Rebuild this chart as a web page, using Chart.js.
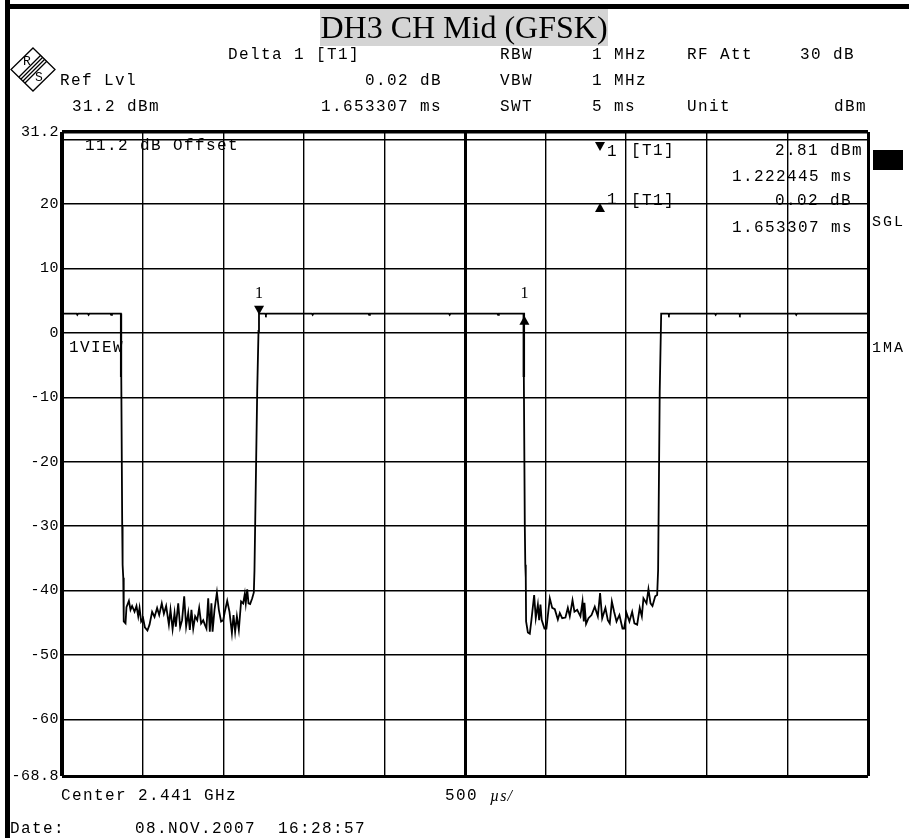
<!DOCTYPE html>
<html>
<head>
<meta charset="utf-8">
<title>DH3 CH Mid (GFSK)</title>
<script src="https://cdn.jsdelivr.net/npm/chart.js@4/dist/chart.umd.min.js"></script>
<style>
  html, body { margin: 0; padding: 0; background: #fff; }
  canvas { display: block; }
</style>
</head>
<body>
<canvas id="chart" width="909" height="838"></canvas>
<script>
const chartTitle = 'DH3 CH Mid (GFSK)';

const yTicks = [31.2, 30, 20, 10, 0, -10, -20, -30, -40, -50, -60, -68.8];
const yTickLabels = ['31.2', '', '20', '10', '0', '-10', '-20', '-30', '-40', '-50', '-60', '-68.8'];
const xTicks = [0, 0.5, 1, 1.5, 2, 2.5, 3, 3.5, 4, 4.5, 5];

// trazo del analizador: tiempo en ms, nivel en dBm
const highAMs = [0, 0.09, 0.095, 0.10, 0.16, 0.165, 0.17, 0.30, 0.305, 0.31, 0.365, 0.365, 0.369, 0.369, 0.367, 0.367, 0.3735, 0.376, 0.380];
const highADb = [3, 3, 2.8, 3, 3, 2.8, 3, 3, 2.8, 3, 3, -6.7, -6.7, 3, 3, -6.7, -30, -36, -38];

const burstAMs = [0.383, 0.394, 0.400, 0.415, 0.425, 0.435, 0.450, 0.462, 0.473, 0.481, 0.491, 0.503, 0.514, 0.530, 0.543,
  0.559, 0.574, 0.590, 0.603, 0.619, 0.632, 0.646, 0.663, 0.673, 0.686, 0.698, 0.706, 0.721, 0.733, 0.745,
  0.758, 0.770, 0.783, 0.793, 0.803, 0.814, 0.826, 0.839, 0.851, 0.863, 0.876, 0.886, 0.896, 0.907, 0.917,
  0.927, 0.934, 0.946, 0.961, 0.973, 0.987, 1.000, 1.010, 1.025, 1.039, 1.054, 1.064, 1.074, 1.085, 1.097,
  1.111, 1.124, 1.134, 1.140, 1.149, 1.157, 1.167, 1.180, 1.190];
const burstADb = [-44.8, -45.1, -42.6, -41.6, -43.0, -42.4, -43.3, -42.4, -44.0, -42.7, -44.8, -44.3, -45.7, -46.2, -45.3,
  -43.3, -44.1, -42.7, -43.8, -42.0, -43.6, -42.4, -45.3, -43.0, -46.0, -43.5, -45.6, -42.0, -45.7, -44.6,
  -40.9, -45.6, -43.5, -46.1, -43.0, -45.9, -44.0, -44.6, -42.7, -45.1, -44.6, -45.3, -45.9, -41.2, -46.4,
  -42.0, -46.4, -43.0, -40.3, -43.0, -44.8, -44.6, -43.3, -41.6, -43.3, -46.6, -43.8, -46.4, -44.0, -46.1,
  -41.7, -42.0, -40.5, -42.0, -39.8, -42.0, -42.1, -41.2, -40.3];

const highBMs = [1.194, 1.211, 1.219, 1.222, 1.26, 1.265, 1.27, 1.55, 1.555, 1.56, 1.90, 1.905, 1.91, 2.40, 2.405, 2.41, 2.70, 2.705, 2.71, 2.863, 2.863, 2.867, 2.867, 2.865, 2.865, 2.871, 2.874, 2.877];
const highBDb = [-36.9, -9, 0.3, 3, 3, 2.8, 3, 3, 2.8, 3, 3, 2.8, 3, 3, 2.8, 3, 3, 2.8, 3, 3, -6.7, -6.7, 3, 3, -6.7, -30, -36, -38];

const burstBMs = [2.879, 2.890, 2.902, 2.912, 2.929, 2.939, 2.952, 2.960, 2.968, 2.976, 2.993, 3.005, 3.026, 3.041, 3.057,
  3.076, 3.088, 3.103, 3.123, 3.138, 3.150, 3.167, 3.179, 3.196, 3.216, 3.229, 3.237, 3.241, 3.251, 3.266,
  3.285, 3.305, 3.324, 3.338, 3.351, 3.371, 3.386, 3.398, 3.411, 3.425, 3.440, 3.458, 3.477, 3.487, 3.502,
  3.520, 3.537, 3.551, 3.568, 3.584, 3.597, 3.607, 3.626, 3.638, 3.651, 3.663, 3.680, 3.692];
const burstBDb = [-44.8, -46.5, -46.7, -44.6, -40.7, -44.3, -42.2, -44.6, -42.2, -44.6, -45.9, -45.9, -41.2, -42.7, -42.9,
  -44.5, -43.5, -44.3, -44.2, -42.7, -44.0, -41.5, -43.3, -43.0, -44.0, -41.7, -44.8, -41.9, -45.2, -44.3,
  -43.8, -42.5, -44.0, -40.4, -44.3, -42.7, -44.6, -45.1, -41.7, -43.3, -44.8, -43.8, -45.9, -45.9, -43.5,
  -44.8, -43.3, -45.1, -45.3, -42.7, -44.0, -41.2, -42.0, -39.8, -42.0, -42.4, -40.9, -40.7];

const highCMs = [3.698, 3.708, 3.717, 3.76, 3.765, 3.77, 4.05, 4.055, 4.06, 4.20, 4.205, 4.21, 4.55, 4.555, 4.56, 5];
const highCDb = [-36.8, -9, 3, 3, 2.8, 3, 3, 2.8, 3, 3, 2.8, 3, 3, 2.8, 3, 3];

const traceMs = [...highAMs, ...burstAMs, ...highBMs, ...burstBMs, ...highCMs];
const traceDb = [...highADb, ...burstADb, ...highBDb, ...burstBDb, ...highCDb];

// marcadores: 1 y delta 1
const markerMs = [1.222445, 2.8685];
const markerDb = [2.81, 2.83];

const MONO = '"Liberation Mono", monospace';

function texto(ctx, str, x, y, align, font, spacing) {
  ctx.font = font || '16px ' + MONO;
  ctx.letterSpacing = (spacing === undefined ? 1.4 : spacing) + 'px';
  ctx.textAlign = align || 'left';
  ctx.textBaseline = 'middle';
  ctx.fillStyle = '#000';
  ctx.fillText(str, x, y);
}

function triangulo(ctx, x, tipY, dir) {
  ctx.fillStyle = '#000';
  ctx.beginPath();
  ctx.moveTo(x, tipY);
  ctx.lineTo(x - 5, tipY - dir * 9);
  ctx.lineTo(x + 5, tipY - dir * 9);
  ctx.closePath();
  ctx.fill();
}

function dibujarLogo(ctx) {
  ctx.strokeStyle = '#000';
  ctx.lineWidth = 1.3;
  ctx.beginPath();
  ctx.moveTo(33, 48); ctx.lineTo(55, 69.5); ctx.lineTo(33, 91); ctx.lineTo(11, 69.5);
  ctx.closePath();
  ctx.stroke();
  [-3, -1, 1, 3].forEach(d => {
    ctx.beginPath();
    ctx.moveTo(22 + d, 80 + d);
    ctx.lineTo(44 + d, 58 + d);
    ctx.stroke();
  });
  texto(ctx, 'R', 27, 62, 'center', '13px ' + MONO, 0);
  texto(ctx, 'S', 39, 78, 'center', '13px ' + MONO, 0);
}

const instrumento = {
  id: 'instrumento',
  beforeDraw(chart) {
    // el espaciado queda en el contexto para las etiquetas del eje y
    chart.ctx.letterSpacing = '0.5px';
  },
  afterDraw(chart) {
    const ctx = chart.ctx;
    const { x: xs, y: ys } = chart.scales;

    // marco
    ctx.fillStyle = '#000';
    ctx.fillRect(5, 0, 5, 838);
    ctx.fillRect(5, 4, 904, 5);

    // titulo
    ctx.fillStyle = '#d4d4d4';
    ctx.fillRect(320, 9, 288, 37);
    texto(ctx, chartTitle, 464, 30, 'center', '32px "Liberation Serif", serif', 0);

    dibujarLogo(ctx);

    // cabecera
    texto(ctx, 'Delta 1 [T1]', 228, 55);
    texto(ctx, 'Ref Lvl', 60, 81);
    texto(ctx, '31.2 dBm', 72, 107);
    texto(ctx, '0.02 dB', 442, 81, 'right');
    texto(ctx, '1.653307 ms', 442, 107, 'right');
    texto(ctx, 'RBW', 500, 55);
    texto(ctx, 'VBW', 500, 81);
    texto(ctx, 'SWT', 500, 107);
    texto(ctx, '1 MHz', 592, 55);
    texto(ctx, '1 MHz', 592, 81);
    texto(ctx, '5 ms', 592, 107);
    texto(ctx, 'RF Att', 687, 55);
    texto(ctx, 'Unit', 687, 107);
    texto(ctx, '30 dB', 800, 55);
    texto(ctx, 'dBm', 834, 107);

    // dentro del area
    texto(ctx, '11.2 dB Offset', 85, 146);
    texto(ctx, '1VIEW', 69, 348);
    triangulo(ctx, 600, 151, 1);
    texto(ctx, '1', 607, 152);
    texto(ctx, '[T1]', 631, 151);
    texto(ctx, '2.81 dBm', 775, 151);
    texto(ctx, '1.222445 ms', 732, 177);
    triangulo(ctx, 600, 203, -1);
    texto(ctx, '1', 607, 200);
    texto(ctx, '[T1]', 631, 201);
    texto(ctx, '0.02 dB', 775, 201);
    texto(ctx, '1.653307 ms', 732, 228);

    // marcadores sobre el trazo
    markerMs.forEach((ms, i) => {
      const px = xs.getPixelForValue(ms);
      const py = ys.getPixelForValue(markerDb[i]);
      triangulo(ctx, px, i === 0 ? py : py + 1, i === 0 ? 1 : -1);
      texto(ctx, '1', px, 294, 'center', '16px "Liberation Serif", serif', 0);
    });

    // derecha
    ctx.fillStyle = '#000';
    ctx.fillRect(873, 150, 30, 20);
    texto(ctx, 'SGL', 872, 222, 'left', '15px ' + MONO, 2);
    texto(ctx, '1MA', 872, 348, 'left', '15px ' + MONO, 2);

    // pie
    texto(ctx, 'Center 2.441 GHz', 61, 796);
    texto(ctx, '500', 445, 796);
    texto(ctx, 'µs/', 490, 797, 'left', 'italic 16px "Liberation Serif", serif', 1);
    texto(ctx, 'Date:', 10, 829);
    texto(ctx, '08.NOV.2007  16:28:57', 135, 829);

    ctx.letterSpacing = '0.5px';
  }
};

new Chart(document.getElementById('chart').getContext('2d'), {
  type: 'line',
  data: {
    datasets: [{
      label: 'Trace 1',
      data: traceMs.map((ms, i) => ({ x: ms, y: traceDb[i] })),
      borderColor: '#000',
      borderWidth: 1.8,
      pointRadius: 0,
      tension: 0
    }]
  },
  options: {
    responsive: false,
    animation: false,
    layout: { padding: { left: 12, right: 41, top: 132, bottom: 62 } },
    plugins: { legend: { display: false }, tooltip: { enabled: false } },
    scales: {
      x: {
        type: 'linear',
        min: 0,
        max: 5,
        afterBuildTicks: s => { s.ticks = xTicks.map(v => ({ value: v })); },
        afterFit: s => { s.height = 0; },
        ticks: { display: false },
        border: { display: false },
        grid: {
          color: '#000',
          drawTicks: false,
          lineWidth: c => {
            const v = c.tick.value;
            if (v === 2.5) return 3;
            if (v === 0) return 4;
            if (v === 5) return 3;
            return 1.4;
          }
        }
      },
      y: {
        type: 'linear',
        min: -68.8,
        max: 31.2,
        afterBuildTicks: s => { s.ticks = yTicks.map(v => ({ value: v })); },
        afterFit: s => { s.width = 50; },
        border: { display: false },
        grid: {
          color: '#000',
          drawTicks: false,
          lineWidth: c => (c.tick.value === 31.2 ? 3.5 : c.tick.value === -68.8 ? 3 : 1.4)
        },
        ticks: {
          color: '#000',
          padding: 3,
          font: { family: 'Liberation Mono', size: 15 },
          autoSkip: false,
          maxRotation: 0,
          callback: (v, i) => yTickLabels[i]
        }
      }
    }
  },
  plugins: [instrumento]
});
</script>
</body>
</html>
